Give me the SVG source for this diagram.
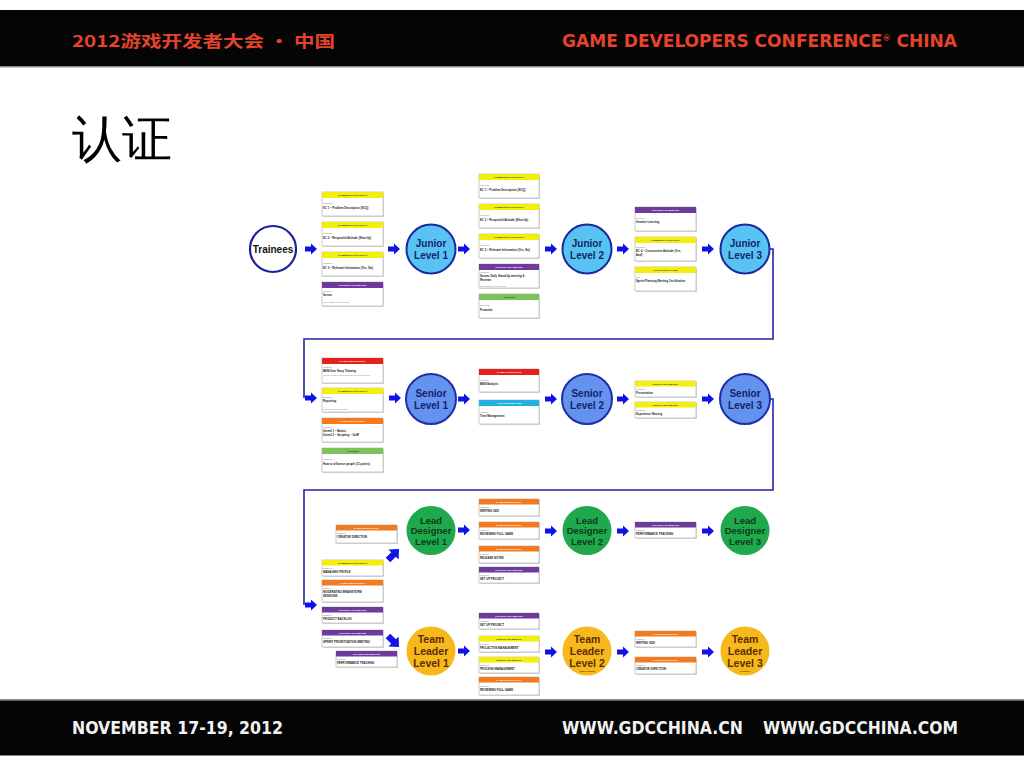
<svg xmlns="http://www.w3.org/2000/svg" width="1024" height="768" viewBox="0 0 1024 768">
<style>
text{font-family:"Liberation Sans",Arial,sans-serif}
.band{fill:#050505}
.bl{fill:#8a8a8a}
.hx{font-family:"Liberation Sans Narrow","DejaVu Sans Condensed","Liberation Sans",sans-serif;font-weight:bold;font-size:17px}
.hc{font-family:"Noto Sans CJK SC","Liberation Sans",sans-serif;font-weight:bold;font-size:16px;fill:#e5432b}
.or{fill:#e5432b}
.wh{fill:#f2f2f2}
.sh{fill:#dcdcdc}
.cb{fill:#fff;stroke:#a9a9a9;stroke-width:.6}
.Y{fill:#f4ee0b}.P{fill:#6e3b9d}.G{fill:#7bc25a}.R{fill:#e71f1d}.O{fill:#f37a1f}.C{fill:#20b0e2}
.ht{font-size:2.5px;font-weight:bold;fill:#fff;text-anchor:middle}
.d{fill:#333}
.cd{font-size:2.3px;fill:#777}
.ct{font-size:2.8px;font-weight:bold;fill:#222}
.cn{font-size:2.3px;fill:#888}
.lbl{font-weight:bold;text-anchor:middle}
.tr{fill:#fff;stroke:#1b1f9a;stroke-width:2.2}
.jr{fill:#58c3f2;stroke:#1b2a9e;stroke-width:2}
.sr{fill:#6492ee;stroke:#1f2fa8;stroke-width:2}
.ld{fill:#1fa84c}
.tl{fill:#f7b81c}
.tn{fill:#13236b}
.tg{fill:#0d3b1a}
.tb{fill:#5b2d06}
.wire{fill:none;stroke:#2323a6;stroke-width:1.6}
</style>
<defs>
<path id="ar" d="M0,-2.5H6V-5.5L12,0L6,5.5V2.5H0Z" fill="#1212e6"/>
</defs>
<rect width="1024" height="768" fill="#fff"/>
<!-- header -->
<rect class="band" x="0" y="10" width="1024" height="56"/>
<rect class="bl" x="0" y="66" width="1024" height="1.5"/>
<text class="hc" x="72" y="47" textLength="263" lengthAdjust="spacingAndGlyphs">2012游戏开发者大会 • 中国</text>
<text class="hx or" x="562" y="47" textLength="395" lengthAdjust="spacingAndGlyphs">GAME DEVELOPERS CONFERENCE<tspan font-size="8" dy="-6">®</tspan><tspan dy="6"> CHINA</tspan></text>
<!-- title -->
<text x="72" y="156" font-family="'Noto Serif CJK SC','Noto Sans CJK SC',serif" font-size="50" fill="#000">认证</text>
<!-- footer -->
<rect class="bl" x="0" y="699" width="1024" height="1.5"/>
<rect class="band" x="0" y="700.5" width="1024" height="55"/>
<text class="hx wh" x="72" y="734" textLength="211" lengthAdjust="spacingAndGlyphs">NOVEMBER 17-19, 2012</text>
<text class="hx wh" x="562" y="734" textLength="181" lengthAdjust="spacingAndGlyphs">WWW.GDCCHINA.CN</text>
<text class="hx wh" x="763" y="734" textLength="195" lengthAdjust="spacingAndGlyphs">WWW.GDCCHINA.COM</text>

<!-- connectors -->
<g id="connectors">
<path class="wire" d="M769,249H773V339H304V398"/>
<path class="wire" d="M769,399H773V490H304V605"/>
<use href="#ar" x="305" y="249"/>
<use href="#ar" x="388" y="249"/>
<use href="#ar" x="458" y="249"/>
<use href="#ar" x="545" y="249"/>
<use href="#ar" x="617" y="249"/>
<use href="#ar" x="702" y="249"/>
<use href="#ar" x="305" y="398"/>
<use href="#ar" x="389" y="398"/>
<use href="#ar" x="458" y="399"/>
<use href="#ar" x="545" y="399"/>
<use href="#ar" x="617" y="399"/>
<use href="#ar" x="702" y="399"/>
<use href="#ar" x="458" y="530"/>
<use href="#ar" x="545" y="531"/>
<use href="#ar" x="617" y="531"/>
<use href="#ar" x="702" y="531"/>
<use href="#ar" x="305" y="605"/>
<use href="#ar" x="458" y="651"/>
<use href="#ar" x="545" y="652"/>
<use href="#ar" x="617" y="652"/>
<use href="#ar" x="702" y="652"/>
<use href="#ar" transform="translate(388,560) rotate(-45) scale(1.3)"/>
<use href="#ar" transform="translate(388,636) rotate(45) scale(1.3)"/>
</g>

<!-- level nodes -->
<g id="trainees"><circle class="tr" cx="273" cy="249" r="23"/><text class="lbl" x="273" y="252.5" font-size="10" fill="#111">Trainees</text></g>
<g id="junior1"><circle class="jr" cx="431" cy="249" r="24.5"/><text class="lbl tn" x="431" y="246.5" font-size="10">Junior</text><text class="lbl tn" x="431" y="258.5" font-size="10">Level 1</text></g>
<g id="junior2"><circle class="jr" cx="587" cy="249" r="24.5"/><text class="lbl tn" x="587" y="246.5" font-size="10">Junior</text><text class="lbl tn" x="587" y="258.5" font-size="10">Level 2</text></g>
<g id="junior3"><circle class="jr" cx="745" cy="249" r="24.5"/><text class="lbl tn" x="745" y="246.5" font-size="10">Junior</text><text class="lbl tn" x="745" y="258.5" font-size="10">Level 3</text></g>
<g id="senior1"><circle class="sr" cx="431" cy="399" r="25"/><text class="lbl tn" x="431" y="396.5" font-size="10">Senior</text><text class="lbl tn" x="431" y="408.5" font-size="10">Level 1</text></g>
<g id="senior2"><circle class="sr" cx="587" cy="399" r="25"/><text class="lbl tn" x="587" y="396.5" font-size="10">Senior</text><text class="lbl tn" x="587" y="408.5" font-size="10">Level 2</text></g>
<g id="senior3"><circle class="sr" cx="745" cy="399" r="25"/><text class="lbl tn" x="745" y="396.5" font-size="10">Senior</text><text class="lbl tn" x="745" y="408.5" font-size="10">Level 3</text></g>
<g id="lead1"><circle class="ld" cx="431" cy="530.5" r="24.5"/><text class="lbl tg" x="431" y="523.5" font-size="9.5">Lead</text><text class="lbl tg" x="431" y="534" font-size="9.5">Designer</text><text class="lbl tg" x="431" y="544.5" font-size="9.5">Level 1</text></g>
<g id="lead2"><circle class="ld" cx="587" cy="530.5" r="24.5"/><text class="lbl tg" x="587" y="523.5" font-size="9.5">Lead</text><text class="lbl tg" x="587" y="534" font-size="9.5">Designer</text><text class="lbl tg" x="587" y="544.5" font-size="9.5">Level 2</text></g>
<g id="lead3"><circle class="ld" cx="745" cy="530.5" r="24.5"/><text class="lbl tg" x="745" y="523.5" font-size="9.5">Lead</text><text class="lbl tg" x="745" y="534" font-size="9.5">Designer</text><text class="lbl tg" x="745" y="544.5" font-size="9.5">Level 3</text></g>
<g id="team1"><circle class="tl" cx="431" cy="651" r="24.5"/><text class="lbl tb" x="431" y="643" font-size="10.5">Team</text><text class="lbl tb" x="431" y="655" font-size="10.5">Leader</text><text class="lbl tb" x="431" y="667" font-size="10.5">Level 1</text></g>
<g id="team2"><circle class="tl" cx="587" cy="651" r="24.5"/><text class="lbl tb" x="587" y="643" font-size="10.5">Team</text><text class="lbl tb" x="587" y="655" font-size="10.5">Leader</text><text class="lbl tb" x="587" y="667" font-size="10.5">Level 2</text><text class="lbl tb" x="587" y="671.5" font-size="2">(Game Designer)</text></g>
<g id="team3"><circle class="tl" cx="745" cy="651" r="24.5"/><text class="lbl tb" x="745" y="643" font-size="10.5">Team</text><text class="lbl tb" x="745" y="655" font-size="10.5">Leader</text><text class="lbl tb" x="745" y="667" font-size="10.5">Level 3</text><text class="lbl tb" x="745" y="671.5" font-size="2">(Producer)</text></g>

<!-- cards row 1 -->
<g id="a1" transform="translate(322,192)"><rect class="sh" x="1" y="1" width="61" height="24"/><rect class="cb" width="61" height="24"/><rect class="Y" width="61" height="6"/><text class="ht d" x="30.5" y="4">COMMUNICATION SKILL</text><text class="cd" x="1" y="12">NGO008</text><text class="ct" x="1" y="17">EC 1 – Problem Description (SCQ)</text></g>
<g id="a2" transform="translate(322,222)"><rect class="sh" x="1" y="1" width="61" height="24"/><rect class="cb" width="61" height="24"/><rect class="Y" width="61" height="6"/><text class="ht d" x="30.5" y="4">COMMUNICATION SKILL</text><text class="cd" x="1" y="12">NGO017</text><text class="ct" x="1" y="17">EC 2 – Respectful Attitude (Shut Up)</text></g>
<g id="a3" transform="translate(322,252)"><rect class="sh" x="1" y="1" width="61" height="24"/><rect class="cb" width="61" height="24"/><rect class="Y" width="61" height="6"/><text class="ht d" x="30.5" y="4">COMMUNICATION SKILL</text><text class="cd" x="1" y="12">NGO008</text><text class="ct" x="1" y="17">EC 3 – Relevant Information (Yes, No)</text></g>
<g id="a4" transform="translate(322,282)"><rect class="sh" x="1" y="1" width="61" height="24"/><rect class="cb" width="61" height="24"/><rect class="P" width="61" height="6"/><text class="ht" x="30.5" y="4">PROJECT TEAMWORK</text><text class="cd" x="1" y="9.5">NGO010</text><text class="ct" x="1" y="14">Scrum</text><text class="cn" x="1" y="21">Daily Stand-Up Reporting</text></g>

<g id="b1" transform="translate(479,174)"><rect class="sh" x="1" y="1" width="60" height="24"/><rect class="cb" width="60" height="24"/><rect class="Y" width="60" height="6"/><text class="ht d" x="30" y="4">COMMUNICATION SKILL</text><text class="cd" x="1" y="12">NGO008</text><text class="ct" x="1" y="17">EC 1 – Problem Description (SCQ)</text></g>
<g id="b2" transform="translate(479,204)"><rect class="sh" x="1" y="1" width="60" height="24"/><rect class="cb" width="60" height="24"/><rect class="Y" width="60" height="6"/><text class="ht d" x="30" y="4">COMMUNICATION SKILL</text><text class="cd" x="1" y="12">NGO017</text><text class="ct" x="1" y="17">EC 2 – Respectful Attitude (Shut Up)</text></g>
<g id="b3" transform="translate(479,234)"><rect class="sh" x="1" y="1" width="60" height="24"/><rect class="cb" width="60" height="24"/><rect class="Y" width="60" height="6"/><text class="ht d" x="30" y="4">COMMUNICATION SKILL</text><text class="cd" x="1" y="12">NGO008</text><text class="ct" x="1" y="17">EC 3 – Relevant Information (Yes, No)</text></g>
<g id="b4" transform="translate(479,264)"><rect class="sh" x="1" y="1" width="60" height="24"/><rect class="cb" width="60" height="24"/><rect class="P" width="60" height="6"/><text class="ht" x="30" y="4">PROJECT TEAMWORK</text><text class="cd" x="1" y="8.5">NGO010</text><text class="ct" x="1" y="12.5">Scrum: Daily Stand-Up meeting &amp;</text><text class="ct" x="1" y="16.5">Reviews</text><text class="cn" x="1" y="22.5">Daily Stand-Up Reporting</text></g>
<g id="b5" transform="translate(479,294)"><rect class="sh" x="1" y="1" width="60" height="24"/><rect class="cb" width="60" height="24"/><rect class="G" width="60" height="6"/><text class="ht d" x="30" y="4">ATTITUDE</text><text class="cd" x="1" y="12">NGO013</text><text class="ct" x="1" y="17">Proactive</text></g>

<g id="c1" transform="translate(635,207)"><rect class="sh" x="1" y="1" width="61" height="24"/><rect class="cb" width="61" height="24"/><rect class="P" width="61" height="6"/><text class="ht" x="30.5" y="4">PROJECT TEAMWORK</text><text class="cd" x="1" y="12">NGO077</text><text class="ct" x="1" y="16">Iterative Learning</text></g>
<g id="c2" transform="translate(635,237)"><rect class="sh" x="1" y="1" width="61" height="24"/><rect class="cb" width="61" height="24"/><rect class="Y" width="61" height="6"/><text class="ht d" x="30.5" y="4">COMMUNICATION SKILL</text><text class="cd" x="1" y="11">NGO077</text><text class="ct" x="1" y="15">EC 4 – Constructive Attitude (Yes,</text><text class="ct" x="1" y="19">And)</text></g>
<g id="c3" transform="translate(635,267)"><rect class="sh" x="1" y="1" width="61" height="24"/><rect class="cb" width="61" height="24"/><rect class="Y" width="61" height="6"/><text class="ht d" x="30.5" y="4">PROFESSIONALISM</text><text class="cd" x="1" y="11">PZ1</text><text class="ct" x="1" y="15">Sprint Planning Meeting Certification</text></g>

<!-- cards row 2 -->
<g id="d1" transform="translate(322,358)"><rect class="sh" x="1" y="1" width="61" height="25"/><rect class="cb" width="61" height="25"/><rect class="R" width="61" height="6"/><text class="ht" x="30.5" y="4">GAME DESIGN SKILL</text><text class="cd" x="1" y="10">TGD003</text><text class="ct" x="1" y="14">BEM User Story Training</text><text class="cn" x="1" y="17.5">How to explain design goals and expectations</text></g>
<g id="d2" transform="translate(322,388)"><rect class="sh" x="1" y="1" width="61" height="24"/><rect class="cb" width="61" height="24"/><rect class="Y" width="61" height="6"/><text class="ht d" x="30.5" y="4">COMMUNICATION SKILL</text><text class="cd" x="1" y="9.5">NGO011</text><text class="ct" x="1" y="13.5">Reporting</text><text class="cn" x="1" y="21.5">Reporting potential risks</text></g>
<g id="d3" transform="translate(322,418)"><rect class="sh" x="1" y="1" width="61" height="24"/><rect class="cb" width="61" height="24"/><rect class="O" width="61" height="6"/><text class="ht" x="30.5" y="4">GAME DESIGN SKILL</text><text class="cd" x="1" y="10">TGD008</text><text class="ct" x="1" y="14">Unreal 1 – Basics</text><text class="ct" x="1" y="18">Unreal 2 – Scripting – GoW</text></g>
<g id="d4" transform="translate(322,448)"><rect class="sh" x="1" y="1" width="61" height="24"/><rect class="cb" width="61" height="24"/><rect class="G" width="61" height="6"/><text class="ht d" x="30.5" y="4">ATTITUDE</text><text class="cd" x="1" y="12">NGO077</text><text class="ct" x="1" y="16.5">How to influence people (11 points)</text></g>

<g id="e1" transform="translate(479,369)"><rect class="sh" x="1" y="1" width="60" height="23"/><rect class="cb" width="60" height="23"/><rect class="R" width="60" height="6"/><text class="ht" x="30" y="4">GAME KNOWLEDGE</text><text class="cd" x="1" y="12">TGK002</text><text class="ct" x="1" y="16">BEM Analysis</text></g>
<g id="e2" transform="translate(479,400)"><rect class="sh" x="1" y="1" width="60" height="24"/><rect class="cb" width="60" height="24"/><rect class="C" width="60" height="6"/><text class="ht" x="30" y="4">PROFESSIONALISM</text><text class="cd" x="1" y="13">PZO006</text><text class="ct" x="1" y="17">Time Management</text></g>

<g id="f1" transform="translate(635,381)"><rect class="sh" x="1" y="1" width="61" height="16"/><rect class="cb" width="61" height="16"/><rect class="Y" width="61" height="5.5"/><text class="ht d" x="30.5" y="3.8">DESIGN TEAMWORK</text><text class="cd" x="1" y="8.5">NGO077</text><text class="ct" x="1" y="12.5">Presentation</text></g>
<g id="f2" transform="translate(635,402)"><rect class="sh" x="1" y="1" width="61" height="16"/><rect class="cb" width="61" height="16"/><rect class="Y" width="61" height="5.5"/><text class="ht d" x="30.5" y="3.8">DESIGN TEAMWORK</text><text class="cd" x="1" y="8.5">NGO077</text><text class="ct" x="1" y="12.5">Experience Sharing</text></g>

<!-- cards row 3/4 left -->
<g id="g1" transform="translate(336,525)"><rect class="sh" x="1" y="1" width="61" height="18"/><rect class="cb" width="61" height="18"/><rect class="O" width="61" height="5.5"/><text class="ht" x="30.5" y="3.8">GAME DESIGN SKILL</text><text class="cd" x="1" y="9">TGD077</text><text class="ct" x="1" y="13">CREATIVE DIRECTION</text></g>
<g id="g2" transform="translate(322,560)"><rect class="sh" x="1" y="1" width="61" height="16"/><rect class="cb" width="61" height="16"/><rect class="Y" width="61" height="5.5"/><text class="ht d" x="30.5" y="3.8">COMMUNICATION SKILL</text><text class="cd" x="1" y="8.5">TGD077</text><text class="ct" x="1" y="12.5">MANAGING PEOPLE</text></g>
<g id="g3" transform="translate(322,580)"><rect class="sh" x="1" y="1" width="61" height="22"/><rect class="cb" width="61" height="22"/><rect class="O" width="61" height="5.5"/><text class="ht" x="30.5" y="3.8">GAME DESIGN SKILL</text><text class="cd" x="1" y="8.5">TGD009</text><text class="ct" x="1" y="12.5">MODERATING BRAINSTORM</text><text class="ct" x="1" y="16.5">SESSIONS</text></g>
<g id="g4" transform="translate(322,607)"><rect class="sh" x="1" y="1" width="61" height="16"/><rect class="cb" width="61" height="16"/><rect class="P" width="61" height="5.5"/><text class="ht" x="30.5" y="3.8">PROJECT TEAMWORK</text><text class="cd" x="1" y="8.5">TGD077</text><text class="ct" x="1" y="12.5">PRODUCT BACKLOG</text></g>
<g id="g5" transform="translate(322,630)"><rect class="sh" x="1" y="1" width="61" height="17"/><rect class="cb" width="61" height="17"/><rect class="P" width="61" height="5.5"/><text class="ht" x="30.5" y="3.8">PROJECT TEAMWORK</text><text class="cd" x="1" y="8.5">TGD077</text><text class="ct" x="1" y="12.5">SPRINT PRIORITIZATION MEETING</text></g>
<g id="g6" transform="translate(336,651)"><rect class="sh" x="1" y="1" width="61" height="16"/><rect class="cb" width="61" height="16"/><rect class="P" width="61" height="5.5"/><text class="ht" x="30.5" y="3.8">PROJECT TEAMWORK</text><text class="cd" x="1" y="8.5">TGD077</text><text class="ct" x="1" y="12.5">PERFORMANCE TRACKING</text></g>

<!-- cards row 3 -->
<g id="h1" transform="translate(479,499)"><rect class="sh" x="1" y="1" width="60" height="17"/><rect class="cb" width="60" height="17"/><rect class="O" width="60" height="5.5"/><text class="ht" x="30" y="3.8">GAME DESIGN SKILL</text><text class="cd" x="1" y="8.5">TGD077</text><text class="ct" x="1" y="12.5">WRITING GDD</text></g>
<g id="h2" transform="translate(479,522)"><rect class="sh" x="1" y="1" width="60" height="17"/><rect class="cb" width="60" height="17"/><rect class="O" width="60" height="5.5"/><text class="ht" x="30" y="3.8">GAME DESIGN SKILL</text><text class="cd" x="1" y="8.5">TGD077</text><text class="ct" x="1" y="12.5">REVIEWING FULL GAME</text></g>
<g id="h3" transform="translate(479,546)"><rect class="sh" x="1" y="1" width="60" height="17"/><rect class="cb" width="60" height="17"/><rect class="O" width="60" height="5.5"/><text class="ht" x="30" y="3.8">GAME DESIGN SKILL</text><text class="cd" x="1" y="8.5">TGD077</text><text class="ct" x="1" y="12.5">RELEASE NOTES</text></g>
<g id="h4" transform="translate(479,567)"><rect class="sh" x="1" y="1" width="60" height="16"/><rect class="cb" width="60" height="16"/><rect class="P" width="60" height="5.5"/><text class="ht" x="30" y="3.8">PROJECT TEAMWORK</text><text class="cd" x="1" y="8.5">TGD077</text><text class="ct" x="1" y="12.5">SET UP PROJECT</text></g>
<g id="i1" transform="translate(635,522)"><rect class="sh" x="1" y="1" width="61" height="16"/><rect class="cb" width="61" height="16"/><rect class="P" width="61" height="5.5"/><text class="ht" x="30.5" y="3.8">PROJECT TEAMWORK</text><text class="cd" x="1" y="8.5">TGD077</text><text class="ct" x="1" y="12.5">PERFORMANCE TRACKING</text></g>

<!-- cards row 4 -->
<g id="j1" transform="translate(479,613)"><rect class="sh" x="1" y="1" width="60" height="16"/><rect class="cb" width="60" height="16"/><rect class="P" width="60" height="5.5"/><text class="ht" x="30" y="3.8">PROJECT TEAMWORK</text><text class="cd" x="1" y="8.5">TGD077</text><text class="ct" x="1" y="12.5">SET UP PROJECT</text></g>
<g id="j2" transform="translate(479,636)"><rect class="sh" x="1" y="1" width="60" height="16"/><rect class="cb" width="60" height="16"/><rect class="Y" width="60" height="5.5"/><text class="ht d" x="30" y="3.8">DESIGN TEAMWORK</text><text class="cd" x="1" y="8.5">NGO077</text><text class="ct" x="1" y="12.5">PRO-ACTIVE MANAGEMENT</text></g>
<g id="j3" transform="translate(479,657)"><rect class="sh" x="1" y="1" width="60" height="16"/><rect class="cb" width="60" height="16"/><rect class="Y" width="60" height="5.5"/><text class="ht d" x="30" y="3.8">DESIGN TEAMWORK</text><text class="cd" x="1" y="8.5">NGO077</text><text class="ct" x="1" y="12.5">PROCESS MANAGEMENT</text></g>
<g id="j4" transform="translate(479,677)"><rect class="sh" x="1" y="1" width="60" height="18"/><rect class="cb" width="60" height="18"/><rect class="O" width="60" height="5.5"/><text class="ht" x="30" y="3.8">GAME DESIGN SKILL</text><text class="cd" x="1" y="9.5">TGD077</text><text class="ct" x="1" y="13.5">REVIEWING FULL GAME</text></g>
<g id="k1" transform="translate(635,631)"><rect class="sh" x="1" y="1" width="61" height="16"/><rect class="cb" width="61" height="16"/><rect class="O" width="61" height="5.5"/><text class="ht" x="30.5" y="3.8">GAME DESIGN SKILL</text><text class="cd" x="1" y="8.5">TGD077</text><text class="ct" x="1" y="12.5">WRITING GDD</text></g>
<g id="k2" transform="translate(635,657)"><rect class="sh" x="1" y="1" width="61" height="17"/><rect class="cb" width="61" height="17"/><rect class="O" width="61" height="5.5"/><text class="ht" x="30.5" y="3.8">GAME DESIGN SKILL</text><text class="cd" x="1" y="8.5">TGD077</text><text class="ct" x="1" y="12.5">CREATIVE DIRECTION</text></g>
</svg>
